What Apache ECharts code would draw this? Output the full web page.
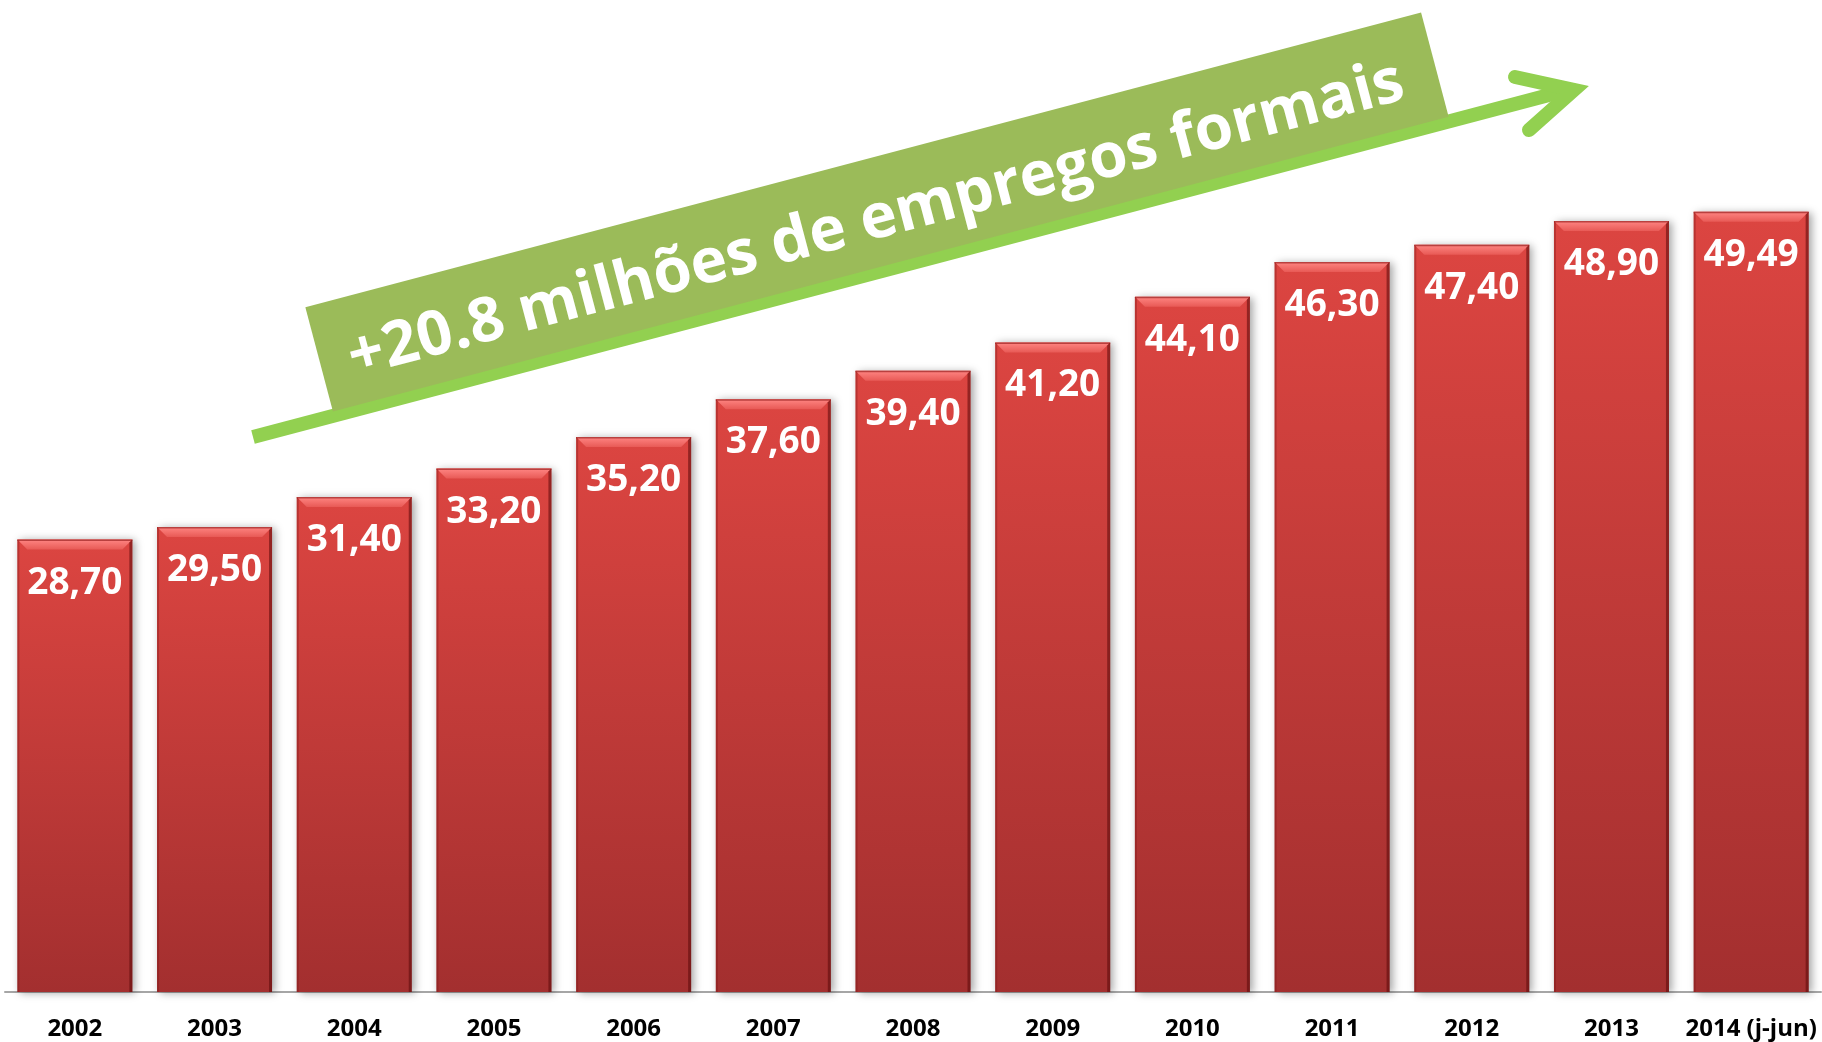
<!DOCTYPE html>
<html>
<head>
<meta charset="utf-8">
<script src="https://cdn.jsdelivr.net/npm/echarts@6/dist/echarts.min.js"></script>
<style>
  html, body { margin: 0; padding: 0; background: #fff; }
  #main { width: 1822px; height: 1042px; }
</style>
</head>
<body>
<div id="main"></div>
<script>
// anos e empregos formais (milhões)
var anos = ['2002', '2003', '2004', '2005', '2006', '2007', '2008', '2009', '2010', '2011', '2012', '2013', '2014 (j-jun)']
var empregos = [28.70, 29.50, 31.40, 33.20, 35.20, 37.60, 39.40, 41.20, 44.10, 46.30, 47.40, 48.90, 49.49]
var destaque = '+20.8 milhões de empregos formais'

var BAR_W = 115
var FONT = '"Open Sans", "DejaVu Sans", sans-serif'

var myChart = echarts.init(document.getElementById('main'))

function fmt(v) {
  return v.toFixed(2).replace('.', ',')
}

// bisel no topo de cada barra
function renderBevel(params, api) {
  var top = api.coord([api.value(0), api.value(1)])
  var base = api.coord([api.value(0), 0])
  var x0 = top[0] - BAR_W / 2
  var x1 = top[0] + BAR_W / 2
  var y0 = top[1]
  var b = 10
  return {
    type: 'group',
    children: [
      {
        type: 'polygon',
        shape: { points: [[x0, y0], [x1, y0], [x1 - b, y0 + b], [x0 + b, y0 + b]] },
        style: {
          fill: new echarts.graphic.LinearGradient(0, 0, 0, 1, [
            { offset: 0, color: '#ff8683' },
            { offset: 1, color: '#e85a56' }
          ])
        }
      },
      {
        type: 'polygon',
        shape: { points: [[x1, y0], [x1, base[1]], [x1 - 3, base[1]], [x1 - 3, y0 + 3]] },
        style: { fill: 'rgba(90,10,10,0.55)' }
      },
      {
        type: 'polygon',
        shape: { points: [[x0, y0], [x0 + 2, y0 + 2], [x0 + 2, base[1]], [x0, base[1]]] },
        style: { fill: 'rgba(120,20,20,0.35)' }
      },
      {
        type: 'rect',
        shape: { x: x0, y: y0, width: BAR_W, height: 1.5 },
        style: { fill: 'rgba(140,20,20,0.6)' }
      }
    ]
  }
}

var option = {
  backgroundColor: '#fff',
  animation: false,
  grid: { left: 5, right: 1, top: 46, bottom: 50 },
  xAxis: {
    type: 'category',
    data: anos,
    axisTick: { show: false },
    axisLine: { lineStyle: { color: '#a6a6a6', width: 2 } },
    axisLabel: {
      interval: 0,
      margin: 25,
      color: '#000',
      fontFamily: FONT,
      fontWeight: 'bold',
      fontSize: 24
    }
  },
  yAxis: {
    type: 'value',
    min: 0,
    max: 60,
    show: false,
    splitLine: { show: false }
  },
  series: [
    {
      type: 'bar',
      data: empregos,
      barWidth: BAR_W,
      itemStyle: {
        color: new echarts.graphic.LinearGradient(0, 0, 0, 1, [
          { offset: 0, color: '#dc4541' },
          { offset: 1, color: '#a32f2f' }
        ]),
        shadowColor: 'rgba(0,0,0,0.35)',
        shadowBlur: 8,
        shadowOffsetX: 3,
        shadowOffsetY: 1
      },
      label: {
        show: true,
        position: 'insideTop',
        distance: 25,
        color: '#fff',
        fontFamily: FONT,
        fontWeight: 'bold',
        fontSize: 37,
        formatter: function (p) { return fmt(p.value) }
      },
      z: 2
    },
    {
      type: 'custom',
      renderItem: renderBevel,
      data: empregos.map(function (v, i) { return [i, v] }),
      silent: true,
      z: 3
    }
  ],
  graphic: [
    {
      // seta verde
      type: 'polyline',
      shape: { points: [[253, 437], [1568, 90]] },
      style: { stroke: '#92d050', lineWidth: 14, fill: null },
      z: 10
    },
    {
      type: 'polyline',
      shape: { points: [[1515, 77], [1574, 90], [1529, 130]] },
      style: { stroke: '#92d050', lineWidth: 14, fill: null, lineCap: 'round', lineJoin: 'miter' },
      z: 11
    },
    {
      type: 'group',
      x: 877,
      y: 212,
      rotation: 14.8 * Math.PI / 180,
      z: 12,
      children: [
        {
          type: 'rect',
          shape: { x: -577, y: -54, width: 1154, height: 108 },
          style: { fill: '#9bbb59' },
          z: 12
        },
        {
          type: 'text',
          x: -3,
          y: 8,
          style: {
            text: destaque,
            fill: '#fff',
            font: 'bold 62px ' + FONT,
            align: 'center',
            verticalAlign: 'middle'
          },
          z: 13
        }
      ]
    }
  ]
}

myChart.setOption(option)
</script>
</body>
</html>
